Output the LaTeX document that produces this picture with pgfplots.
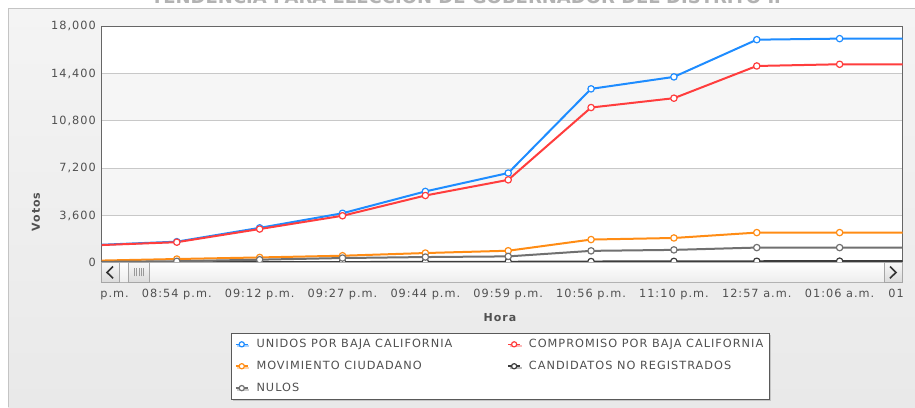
\documentclass[border=0pt]{standalone}
\usepackage{fontspec}
\setmainfont[LetterSpace=9]{DejaVu Sans}
\newfontfamily\titlefont{DejaVu Sans}
\usepackage{pgfplots}
\pgfplotsset{compat=1.18}
\usetikzlibrary{shadows}

\definecolor{cblue}{HTML}{1E8CFF}
\definecolor{cred}{HTML}{FF3D3D}
\definecolor{corange}{HTML}{FF8C14}
\definecolor{cgray}{HTML}{707070}
\definecolor{cdark}{HTML}{3C3C3C}
\definecolor{txtgray}{HTML}{505050}
\definecolor{gridgray}{HTML}{C8C8C8}
\definecolor{bandgray}{HTML}{F6F6F6}
\definecolor{panelTop}{HTML}{F4F4F4}
\definecolor{panelBot}{HTML}{E9E9E9}
\definecolor{bordergray}{HTML}{C4C4C4}

% votes per update; index 0 and 10 lie just outside the scrolled view
\pgfplotstableread{
idx unidos compromiso mc cnr nulos
0   1340   1320       150  20  60
1   1600   1560       280  30  110
2   2650   2560       400  40  230
3   3760   3570       530  50  355
4   5420   5110       735  60  430
5   6820   6300       910  70  480
6   13220  11800      1760 90  900
7   14130  12510      1880 100 975
8   16960  14960      2290 110 1150
9   17040  15090      2290 115 1150
10  17040  15090      2290 115 1150
}\votes

\begin{document}
\begin{tikzpicture}[x=1pt,y=1pt]
\useasboundingbox (0,0) rectangle (915,407);
\clip (0,0) rectangle (915,407);
\fill[white] (0,0) rectangle (915,407);
\shade[top color=panelTop, bottom color=panelBot] (8,0) rectangle (916,398);
\draw[bordergray, line width=1pt] (8,0) -- (8,398) -- (916,398);
\node[anchor=base, font=\titlefont\bfseries\fontsize{18}{20}\selectfont, text=black!30] at (466,403.8)
  {TENDENCIA PARA ELECCIÓN DE GOBERNADOR DEL DISTRITO II};

% plot area with alternating bands
\fill[white] (101.5,144.3) rectangle (902.5,381);
\fill[bandgray] (101.5,191.64) rectangle (902.5,238.98);
\fill[bandgray] (101.5,286.32) rectangle (902.5,333.66);

\begin{axis}[
    at={(101.5pt,144.3pt)}, anchor=south west,
    scale only axis, width=801pt, height=236.7pt,
    xmin=0.091, xmax=9.759, ymin=0, ymax=18000,
    ytick={0,3600,7200,10800,14400,18000},
    scaled y ticks=false,
    /pgf/number format/fixed,
    /pgf/number format/1000 sep={,},
    /pgf/number format/assume math mode=true,
    xtick={1,...,9},
    xticklabels={08:54 p.m.,09:12 p.m.,09:27 p.m.,09:44 p.m.,09:59 p.m.,10:56 p.m.,11:10 p.m.,12:57 a.m.,01:06 a.m.},
    tick style={draw=none},
    ymajorgrids, grid style={gridgray, line width=1pt},
    axis line style={draw=black!60, line width=1pt},
    tick label style={font=\fontsize{11.3}{13}\selectfont, text=txtgray, inner sep=0pt},
    yticklabel style={anchor=base east, xshift=-5.5pt, yshift=-3.7pt},
    xticklabel style={anchor=base, yshift=-34.8pt},
    every axis plot/.append style={line width=2pt, line join=round, mark=*, mark size=3.2pt,
        mark options={fill=white, line width=1.2pt}},
    legend columns=2,
    legend cell align=left,
    legend style={at={(0.1612,-0.297)}, anchor=north west, draw=black!65, line width=0.8pt,
        fill=white, font=\fontsize{11.3}{13}\selectfont, text=txtgray,
        inner xsep=4pt, inner ysep=4pt, row sep=8pt,
        drop shadow={shadow xshift=1.5pt, shadow yshift=-1.5pt, opacity=0.35},
        /tikz/every odd column/.append style={column sep=6pt},
        /tikz/every even column/.append style={column sep=53pt}},
    legend image code/.code={\draw[mark repeat=2, mark phase=2, line width=1.5pt, mark size=2.6pt]
        plot coordinates {(0pt,0pt) (6pt,0pt) (12pt,0pt)};},
]
\addplot[cblue] table[x=idx, y=unidos] {\votes};
\addlegendentry{UNIDOS POR BAJA CALIFORNIA}
\addplot[cred] table[x=idx, y=compromiso] {\votes};
\addlegendentry{COMPROMISO POR BAJA CALIFORNIA}
\addplot[corange] table[x=idx, y=mc] {\votes};
\addlegendentry{MOVIMIENTO CIUDADANO}
\addplot[cdark] table[x=idx, y=cnr] {\votes};
\addlegendentry{CANDIDATOS NO REGISTRADOS}
\addplot[cgray] table[x=idx, y=nulos] {\votes};
\addlegendentry{NULOS}
\end{axis}

% clipped labels of the points just outside the view
\begin{scope}
\clip (100,100) rectangle (902,130);
\node[anchor=base, inner sep=0pt, font=\fontsize{11.3}{13}\selectfont, text=txtgray] at (93.95,109.5) {\phantom{08:40 }p.m.};
\node[anchor=base, inner sep=0pt, font=\fontsize{11.3}{13}\selectfont, text=txtgray] at (922.5,109.5) {01\phantom{:15 a.m.}};
\end{scope}

% scrollbar
\shade[top color=white, bottom color=black!7] (101.5,125) rectangle (902.5,144.3);
\draw[black!30, line width=0.8pt] (101.5,125) rectangle (902.5,144.3);
\shade[top color=black!3, bottom color=black!14] (101.5,125) rectangle (119,144.3);
\draw[black!35, line width=0.8pt] (101.5,125) rectangle (119,144.3);
\draw[black!80, line width=1.6pt] (113,140.5) -- (107,134.6) -- (113,128.7);
\shade[top color=black!3, bottom color=black!14] (884,125) rectangle (902.5,144.3);
\draw[black!35, line width=0.8pt] (884,125) rectangle (902.5,144.3);
\draw[black!80, line width=1.6pt] (890,140.5) -- (896,134.6) -- (890,128.7);
\shade[top color=black!3, bottom color=black!14] (128.3,125) rectangle (149.3,144.3);
\draw[black!35, line width=0.8pt] (128.3,125) rectangle (149.3,144.3);
\foreach \gx in {134.5,136.7,138.9,141.1,143.3}
  \draw[black!40, line width=0.6pt] (\gx,130.5) -- (\gx,138.5);

% axis titles
\node[font=\bfseries\fontsize{11}{13}\selectfont, text=txtgray] at (500,89) {Hora};
\node[font=\bfseries\fontsize{11}{13}\selectfont, text=txtgray, rotate=90] at (36,195) {Votos};
\end{tikzpicture}
\end{document}
